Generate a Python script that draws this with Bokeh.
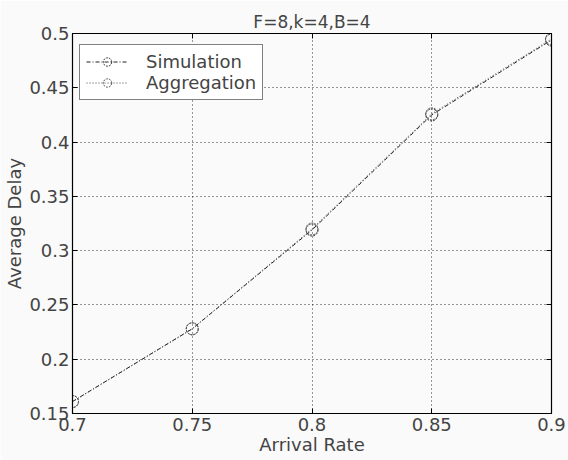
from bokeh.plotting import figure
from bokeh.models import Range1d, LinearAxis, FixedTicker, Legend, LegendItem
from bokeh.embed import file_html
from bokeh.resources import INLINE

arrival_rate = [0.7, 0.75, 0.8, 0.85, 0.9]
simulation = [0.161, 0.228, 0.319, 0.425, 0.494]
aggregation = [0.161, 0.228, 0.320, 0.426, 0.495]
x_ticks = [0.7, 0.75, 0.8, 0.85, 0.9]
y_ticks = [0.15, 0.2, 0.25, 0.3, 0.35, 0.4, 0.45, 0.5]

FONT = "DejaVu Sans"

p = figure(width=568, height=460, output_backend="svg", toolbar_location=None,
           x_range=Range1d(0.7, 0.9), y_range=Range1d(0.15, 0.5),
           min_border_left=72, min_border_right=17, min_border_top=33, min_border_bottom=47,
           title="F=8,k=4,B=4")
p.background_fill_color = "#fafafa"
p.border_fill_color = "#fafafa"
p.outline_line_color = "black"
p.outline_line_width = 1.2

p.title.text_font = FONT
p.title.text_font_size = "17px"
p.title.text_font_style = "normal"
p.title.align = "center"
p.title.offset = 0
p.title.standoff = 3

for ax in (p.xaxis[0], p.yaxis[0]):
    ax.major_tick_in = 5
    ax.major_tick_out = 0
    ax.minor_tick_in = 0
    ax.minor_tick_out = 0
    ax.major_label_text_font = FONT
    ax.major_label_text_font_size = "18px"
    ax.axis_label_text_font = FONT
    ax.axis_label_text_font_size = "18px"
    ax.axis_label_text_font_style = "normal"
    ax.axis_line_color = "black"
    ax.major_tick_line_color = "black"

p.xaxis.ticker = FixedTicker(ticks=x_ticks)
p.yaxis.ticker = FixedTicker(ticks=y_ticks)
p.xaxis.major_label_overrides = {0.7: "0.7", 0.75: "0.75", 0.8: "0.8", 0.85: "0.85", 0.9: "0.9"}
p.yaxis.major_label_overrides = {0.15: "0.15", 0.2: "0.2", 0.25: "0.25", 0.3: "0.3", 0.35: "0.35", 0.4: "0.4", 0.45: "0.45", 0.5: "0.5"}
p.xaxis.axis_label = "Arrival Rate"
p.yaxis.axis_label = "Average Delay"
p.xaxis.major_label_standoff = 4
p.yaxis.major_label_standoff = 3
p.xaxis.axis_label_standoff = 0
p.yaxis.axis_label_standoff = 1

for loc in ("right", "above"):
    a = LinearAxis(ticker=FixedTicker(ticks=y_ticks if loc == "right" else x_ticks),
                   major_label_text_color=None, major_label_text_font_size="10px",
                   major_tick_in=5, major_tick_out=0,
                   minor_tick_in=0, minor_tick_out=0, axis_line_color="black")
    p.add_layout(a, loc)

p.xgrid.ticker = FixedTicker(ticks=x_ticks)
p.ygrid.ticker = FixedTicker(ticks=y_ticks)
p.grid.grid_line_color = "black"
p.grid.grid_line_dash = "1 3"
p.grid.grid_line_width = 1
p.grid.grid_line_alpha = 0.8

l1 = p.line(arrival_rate, simulation, line_color="#222222", line_dash="4 2 1 2", line_width=1)
m1 = p.scatter(arrival_rate, simulation, marker="circle", size=12, fill_color=None,
               line_color="#333333", line_width=1, line_dash="2 1")
l2 = p.line(arrival_rate, aggregation, line_color="#444444", line_dash="1 2", line_width=1)
m2 = p.scatter(arrival_rate, aggregation, marker="circle", size=12, fill_color=None,
               line_color="#555555", line_width=1, line_dash="2 1")

legend = Legend(items=[LegendItem(label="Simulation", renderers=[l1, m1]),
                       LegendItem(label="Aggregation", renderers=[l2, m2])],
                location=(7, 313))
legend.label_text_font = FONT
legend.label_text_font_size = "18px"
legend.border_line_color = "black"
legend.border_line_width = 1.2
legend.background_fill_color = "white"
legend.background_fill_alpha = 1
legend.margin = 0
legend.padding = 6
legend.spacing = 0
legend.glyph_width = 42
legend.glyph_height = 21
legend.label_height = 21
legend.label_standoff = 18
p.add_layout(legend)

open("out.html", "w").write(file_html(p, INLINE))
